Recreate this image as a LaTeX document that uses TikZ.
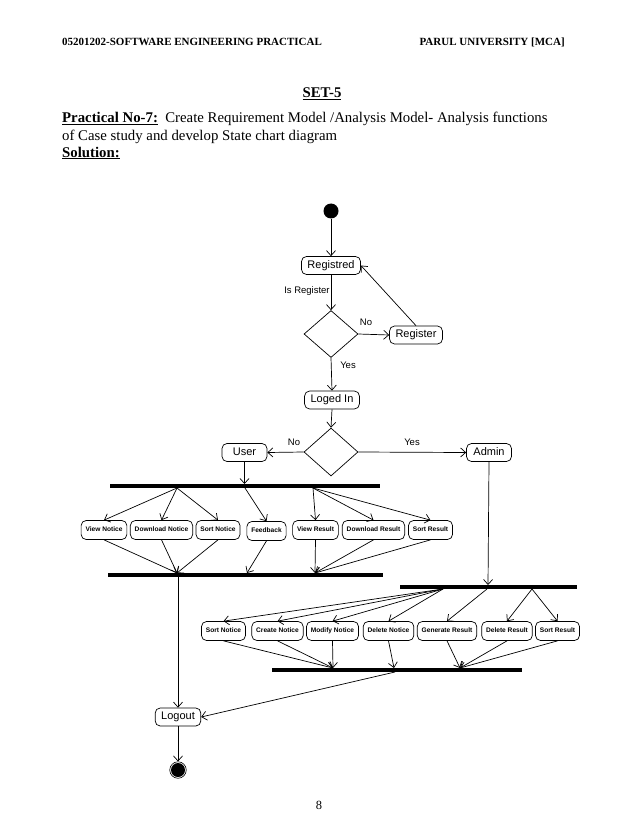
\documentclass[tikz,border=0pt]{standalone}
\usepackage{fontspec}
\setmainfont{Liberation Serif}
\setsansfont{Liberation Sans}
\usetikzlibrary{arrows.meta,shapes.geometric}
\begin{document}
\begin{tikzpicture}[x=1pt,y=-1pt,
  every node/.style={inner sep=0pt},
  st/.style={draw, rounded corners=5pt, line width=0.7pt, font=\sffamily\fontsize{11}{13}\selectfont, minimum width=45pt, minimum height=18pt, inner xsep=6pt, text height=8pt, text depth=2.3pt},
  sm/.style={draw, rounded corners=5pt, line width=0.7pt, font=\sffamily\bfseries\fontsize{6.6}{8}\selectfont, minimum height=19pt, inner xsep=4.4pt, text height=4.8pt, text depth=1.4pt},
  dec/.style={draw, diamond, line width=0.7pt, minimum width=54pt, minimum height=47pt, inner sep=0pt},
  bar/.style={fill=black, minimum height=4.5pt, inner sep=0pt},
  lbl/.style={font=\sffamily\fontsize{9.5}{11}\selectfont},
  hdr/.style={font=\bfseries\fontsize{11}{13}\selectfont},
  body/.style={font=\fontsize{14.8}{17}\selectfont},
  arr/.style={line width=0.7pt, -{Straight Barb[length=5pt,width=9pt]}},
]
\useasboundingbox[fill=white] (0,0) rectangle (638,826);

% header and text
\node[hdr, anchor=west] (h1) at (62,42) {05201202-SOFTWARE ENGINEERING PRACTICAL};
\node[hdr, anchor=east] (h2) at (565,42) {PARUL UNIVERSITY [MCA]};
\node[font=\bfseries\fontsize{14.8}{17}\selectfont] (set) at (322,94) {\underline{SET-5}};
\node[body, anchor=west] (t1) at (62,119) {\textbf{\underline{Practical No-7:}}\ \ Create Requirement Model /Analysis Model- Analysis functions};
\node[body, anchor=west] (t2) at (62,137) {of Case study and develop State chart diagram};
\node[body, anchor=west] (t3) at (62,153) {\textbf{\underline{Solution:}}};
\node[font=\fontsize{12.5}{15}\selectfont] (pg) at (319,805) {8};

% top part
\node[circle, fill=black, minimum size=15pt] (init) at (331,211) {};
\node[st] (rgd) at (331,265.5) {Registred};
\node[dec] (d1) at (331,334) {};
\node[st] (reg) at (416,335) {Register};
\node[st] (log) at (332,400) {Loged In};
\node[dec, minimum height=48pt] (d2) at (331,452) {};
\node[st] (user) at (244.5,452.5) {User};
\node[st] (adm) at (489,452.5) {Admin};

\draw[arr] (init) -- (rgd.north);
\draw[arr] (rgd.south) -- (d1.north) node[lbl, pos=0.45, left=1pt] {Is Register};
\draw[arr] (d1.east) -- (reg.west);
\node[lbl] (lno1) at (366,322) {No};
\draw[arr] (reg.north) -- (rgd.east);
\draw[arr] (d1.south) -- (log.north);
\node[lbl] (lyes1) at (348,365) {Yes};
\draw[arr] (log.south) -- (d2.north);
\draw[arr] (d2.west) -- (user.east);
\node[lbl] (lno2) at (294,442) {No};
\draw[arr] (d2.east) -- (adm.west);
\node[lbl] (lyes2) at (412,442) {Yes};

% fork 1
\node[bar, minimum width=270pt] (f1) at (245,486) {};
\coordinate (f1top) at (244.5,484);
\coordinate (f1n) at (177,488);
\coordinate (f1fb) at (245,488);
\coordinate (f1r) at (313,488);
\draw[arr] (user.south) -- (f1top);

\node[sm] (vn) at (104,530) {View Notice};
\node[sm] (dn) at (161.5,530) {Download Notice};
\node[sm] (sn) at (218,530) {Sort Notice};
\node[sm] (fb) at (266.5,531) {Feedback};
\node[sm] (vr) at (315.5,530) {View Result};
\node[sm] (dr) at (373.5,530) {Download Result};
\node[sm] (sr) at (430.5,530) {Sort Result};

\foreach \n in {vn,dn,sn} \draw[arr] (f1n) -- (\n.north);
\draw[arr] (f1fb) -- (fb.north);
\foreach \n in {vr,dr,sr} \draw[arr] (f1r) -- (\n.north);

% join 1
\node[bar, minimum width=275pt] (j1) at (245.5,575) {};
\coordinate (j1a) at (177,573);
\coordinate (j1b) at (247,573);
\coordinate (j1c) at (315,573);
\coordinate (j1o) at (178,577);
\foreach \n in {vn,dn,sn} \draw[arr] (\n.south) -- (j1a);
\draw[arr] (fb.south) -- (j1b);
\foreach \n in {vr,dr,sr} \draw[arr] (\n.south) -- (j1c);

% fork 2
\node[bar, minimum width=177pt] (f2) at (488.5,587) {};
\coordinate (f2in) at (488,585);
\coordinate (f2a) at (443,589);
\coordinate (f2b) at (487,589);
\coordinate (f2c) at (532,589);
\draw[arr] (adm.south) -- (f2in);

\node[sm] (sn2) at (223.5,631) {Sort Notice};
\node[sm] (cn) at (277.5,631) {Create Notice};
\node[sm] (mn) at (332.5,631) {Modify Notice};
\node[sm] (dln) at (388.5,631) {Delete Notice};
\node[sm] (gr) at (447,631) {Generate Result};
\node[sm] (dr2) at (507,631) {Delete Result};
\node[sm] (sr2) at (557.5,631) {Sort Result};

\foreach \n in {sn2,cn,mn,dln} \draw[arr] (f2a) -- (\n.north);
\draw[arr] (f2b) -- (gr.north);
\foreach \n in {dr2,sr2} \draw[arr] (f2c) -- (\n.north);

% join 2
\node[bar, minimum width=250pt] (j2) at (397,670) {};
\coordinate (j2a) at (333,668);
\coordinate (j2b) at (394,668);
\coordinate (j2c) at (460,668);
\coordinate (j2o) at (395,672);
\foreach \n in {sn2,cn,mn} \draw[arr] (\n.south) -- (j2a);
\draw[arr] (dln.south) -- (j2b);
\foreach \n in {gr,dr2,sr2} \draw[arr] (\n.south) -- (j2c);

% end
\node[st] (lo) at (178,717) {Logout};
\node[circle, draw, line width=0.6pt, minimum size=16.5pt] (fin) at (178,770) {};
\node[circle, fill=black, minimum size=14pt] (finin) at (fin.center) {};
\draw[arr] (j1o) -- (lo.north);
\draw[arr] (j2o) -- (lo.east);
\draw[arr] (lo.south) -- (fin.north);
\end{tikzpicture}
\end{document}
